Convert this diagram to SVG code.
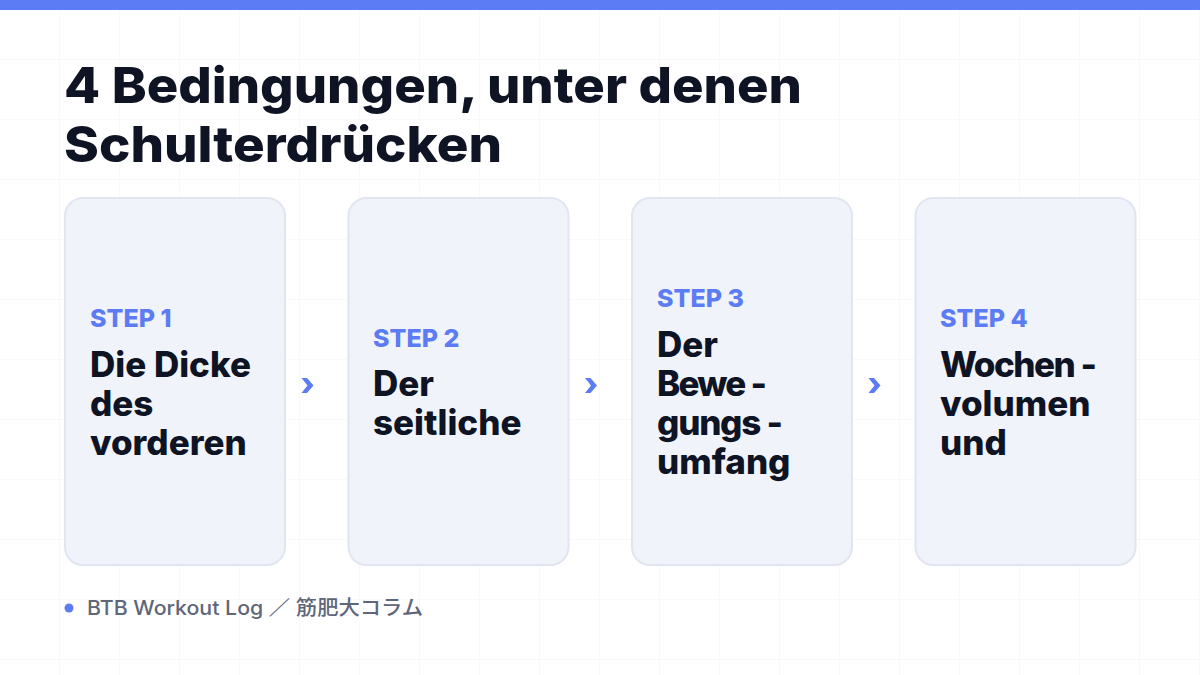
<svg xmlns="http://www.w3.org/2000/svg" width="1200" height="675" viewBox="0 0 1200 675">
<defs>
<pattern id="grid" width="60" height="60" patternUnits="userSpaceOnUse">
<path d="M60 0V60M0 60H60" fill="none" stroke="#f1f2f5" stroke-width="1"/>
</pattern>
</defs>
<style>
.card{fill:#f1f3fb;stroke:#e1e5f0;stroke-width:2}
.step{font-family:Inter,"Liberation Sans",sans-serif;font-weight:800;font-size:25px;fill:#5b7cf5}
.body{font-family:Inter,"Liberation Sans",sans-serif;font-weight:800;font-size:35px;fill:#0f1424}
.title{font-family:Inter,"Liberation Sans",sans-serif;font-weight:800;font-size:50px;fill:#0f1424}
.foot{font-family:Inter,"Noto Sans CJK JP",sans-serif;font-weight:500;font-size:20px;fill:#60667a}
.chev{fill:#5b7cf5}
</style>
<rect width="1200" height="675" fill="#ffffff"/>
<rect width="1200" height="675" fill="url(#grid)"/>
<rect width="1200" height="10" fill="#5b7cf5"/>
<g id="title">
<text class="title" x="64" y="103" textLength="738" lengthAdjust="spacingAndGlyphs">4 Bedingungen, unter denen</text>
<text class="title" x="64" y="162" textLength="438" lengthAdjust="spacingAndGlyphs">Schulterdrücken</text>
</g>
<g id="step1">
<rect class="card" x="65" y="198" width="220" height="367" rx="18"/>
<text class="step" x="90" y="327">STEP 1</text>
<text class="body" x="90" y="377">Die Dicke</text>
<text class="body" x="90" y="416">des</text>
<text class="body" x="90" y="455">vorderen</text>
</g>
<g id="step2">
<rect class="card" x="348.5" y="198" width="220" height="367" rx="18"/>
<text class="step" x="373" y="347">STEP 2</text>
<text class="body" x="373" y="396">Der</text>
<text class="body" x="373" y="435">seitliche</text>
</g>
<g id="step3">
<rect class="card" x="632" y="198" width="220" height="367" rx="18"/>
<text class="step" x="657" y="307">STEP 3</text>
<text class="body" x="657" y="357">Der</text>
<text class="body" x="657" y="396" textLength="110" lengthAdjust="spacing">Bewe -</text>
<text class="body" x="657" y="435" textLength="126" lengthAdjust="spacing">gungs -</text>
<text class="body" x="657" y="474">umfang</text>
</g>
<g id="step4">
<rect class="card" x="915.5" y="198" width="220" height="367" rx="18"/>
<text class="step" x="940" y="327">STEP 4</text>
<text class="body" x="940" y="377" textLength="157" lengthAdjust="spacing">Wochen -</text>
<text class="body" x="940" y="416">volumen</text>
<text class="body" x="940" y="455">und</text>
</g>
<g id="connectors">
<path class="chev" d="M301.5 378H307L313.5 385.5L307 393H301.5L307.5 385.5Z"/>
<path class="chev" d="M585 378H590.5L597 385.5L590.5 393H585L591 385.5Z"/>
<path class="chev" d="M868.5 378H874L880.5 385.5L874 393H868.5L874.5 385.5Z"/>
</g>
<g id="footer">
<circle cx="69" cy="608" r="4.5" fill="#5b7cf5"/>
<text class="foot" x="87" y="615" textLength="336" lengthAdjust="spacingAndGlyphs">BTB Workout Log ／ 筋肥大コラム</text>
</g>
</svg>
